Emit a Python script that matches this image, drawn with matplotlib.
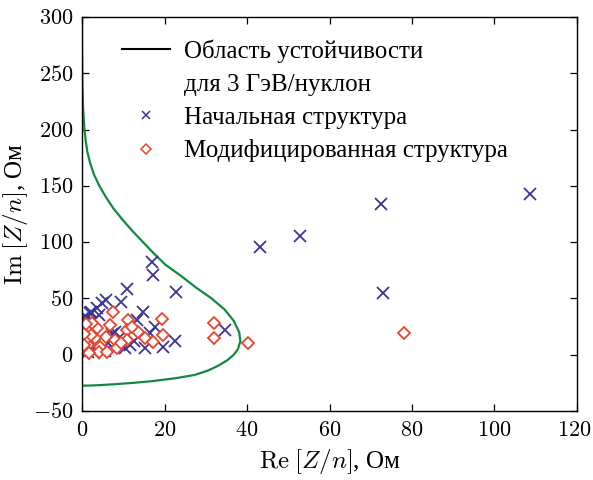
import numpy as np
import matplotlib
matplotlib.use('Agg')
import matplotlib.pyplot as plt
from matplotlib.lines import Line2D
from matplotlib.ticker import FuncFormatter
from matplotlib.transforms import ScaledTranslation

plt.rcParams['mathtext.fontset'] = 'cm'
plt.rcParams['font.family'] = ['Liberation Serif', 'DejaVu Serif']

# stability boundary, 3 GeV/nucleon
curve_im = [300, 280, 260, 240, 220, 210, 200, 190, 180, 170, 160, 150, 140, 130,
            120, 110, 100, 90, 80, 70, 60, 50, 40, 30, 20, 12, 5, 0, -5, -10,
            -14, -18, -21, -23.5, -25, -26.2, -27, -27.4, -27.5]
curve_re = [0, 0.0, 0.05, 0.1, 0.25, 0.4, 0.6, 0.9, 1.3, 2.0, 2.9, 4.2, 5.8, 7.6,
            9.8, 12.2, 14.8, 17.4, 20.2, 24.0, 27.5, 31.4, 34.6, 36.8, 38.1, 38.4,
            37.8, 36.8, 35.2, 32.9, 30.6, 27.3, 22.5, 17.0, 12.5, 8.0, 4.5, 2.0, 0]

# initial structure
init_re = [108.6, 72.5, 52.8, 43.2, 73.0, 34.6, 22.8, 22.5, 17.0, 17.3,
           14.9, 10.8, 9.5, 5.8, 4.8, 3.6, 1.9, 1.2, 13.3, 17.7,
           16.5, 19.7, 15.3, 11.6, 10.4, 8.0, 6.8, 3.2, 1.5, 6.4,
           2.7, 1.5, 0.8, 0.5, 2.2, 4.0, 7.2, 9.0, 12.5, 5.5,
           3.0, 0.6]
init_im = [142.7, 133.7, 105.4, 95.6, 54.8, 21.5, 55.5, 12.0, 82.0, 71.0,
           38.0, 58.0, 46.5, 48.6, 45.6, 41.2, 36.8, 32.3, 30.8, 24.9,
           19.0, 7.1, 5.7, 8.6, 5.7, 20.4, 21.9, 4.2, 2.7, 10.1,
           30.0, 26.0, 34.0, 28.0, 38.0, 35.0, 18.0, 15.0, 12.0, 3.0,
           1.5, 5.0]

# modified structure
mod_re = [78.0, 40.3, 31.9, 31.9, 19.3, 19.7, 7.6, 11.2, 6.8, 3.6,
          1.2, 5.8, 3.2, 1.5, 4.4, 8.0, 10.8, 10.8, 13.6, 15.3,
          17.3, 8.4, 0.7, 2.3, 0.7, 12.0, 2.5, 1.0, 0.5, 4.0,
          6.0, 9.5, 1.8, 0.4]
mod_im = [19.5, 10.7, 27.8, 14.8, 32.0, 17.5, 37.8, 30.8, 26.4, 23.4,
          21.9, 15.5, 14.6, 8.6, 7.1, 13.0, 21.9, 13.0, 20.4, 14.6,
          11.5, 5.7, 13.0, 17.5, 4.2, 25.0, 28.0, 27.0, 18.0, 2.5,
          2.0, 10.0, 1.5, 9.0]

green = '#13893f'
blue = '#3b3497'
red = '#e8452c'

fig = plt.figure(figsize=(5.93, 4.80), dpi=100, facecolor='w')
ax = fig.add_axes([0.1383, 0.1438, 0.8347, 0.8208])

ax.plot(curve_re, curve_im, color=green, lw=1.6)
ax.plot(init_re, init_im, ls='none', marker='x', ms=8.5, mew=1.3, color=blue)
ax.plot(mod_re, mod_im, ls='none', marker='D', ms=6.5, mew=1.3, mec=red, mfc='white')

ax.set_xlim(0, 120)
ax.set_ylim(-50, 300)
ax.set_xticks(np.arange(0, 121, 20))
ax.set_yticks(np.arange(-50, 301, 50))
fmt = FuncFormatter(lambda v, p: '$%d$' % v)
ax.xaxis.set_major_formatter(fmt)
ax.yaxis.set_major_formatter(fmt)
ax.tick_params(direction='in', top=True, right=True, length=5, width=0.9,
               labelsize=16)
ax.tick_params(axis='x', pad=8)
ax.tick_params(axis='y', pad=6)
for s in ax.spines.values():
    s.set_linewidth(1.0)

# keep the last x label inside the figure edge
last = ax.get_xticklabels()[-1]
last.set_transform(last.get_transform() + ScaledTranslation(-2 / 72, 0, fig.dpi_scale_trans))

ax.set_xlabel(r'$\mathrm{Re}\;[Z/n]$, Ом', fontsize=18, labelpad=4)
ax.set_ylabel(r'$\mathrm{Im}\;[Z/n]$, Ом', fontsize=18, labelpad=2)

handles = [Line2D([], [], color='k', lw=1.5),
           Line2D([], [], ls='none'),
           Line2D([], [], ls='none', marker='x', ms=6, mew=1.1, color=blue),
           Line2D([], [], ls='none', marker='D', ms=5, mew=1.1, mec=red, mfc='white')]
labels = ['Область устойчивости', 'для 3 ГэВ/нуклон',
          'Начальная структура', 'Модифицированная структура']
ax.legend(handles, labels, loc='upper left', bbox_to_anchor=(0.081, 0.943),
          borderaxespad=0, borderpad=0,
          frameon=False, fontsize=18, handlelength=1.9, handletextpad=0.56,
          labelspacing=0.42, numpoints=1)

fig.savefig('out.png', dpi=100)
